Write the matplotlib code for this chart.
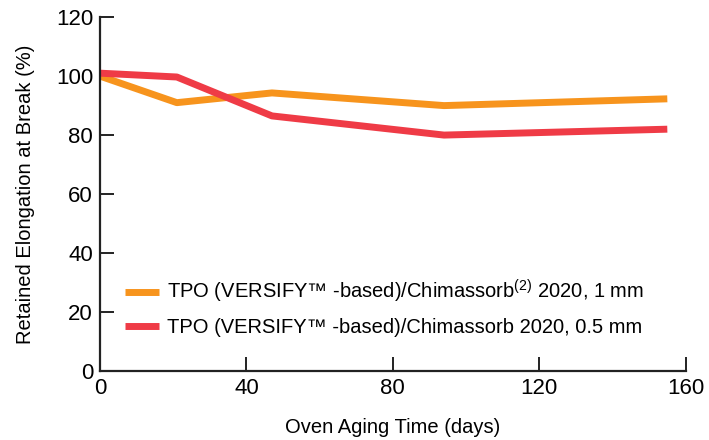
import matplotlib
matplotlib.use("Agg")
from matplotlib import pyplot as plt

plt.rcParams['font.family'] = ['Liberation Sans', 'DejaVu Sans']
plt.rcParams['mathtext.fontset'] = 'custom'
plt.rcParams['mathtext.rm'] = 'Liberation Sans'

days = [0, 21, 47, 94, 155]
elong_1mm = [100, 91, 94.3, 90, 92.3]
elong_05mm = [101, 99.7, 86.5, 80, 82]

labels = ["TPO (VERSIFY\u2122 -based)/Chimassorb$^{\\mathregular{(2)}}$ 2020, 1 mm",
          "TPO (VERSIFY\u2122 -based)/Chimassorb 2020, 0.5 mm"]
colors = ['#F7941D', '#EF3B46']

fig = plt.figure(figsize=(7.09, 4.40), dpi=100)
ax = fig.add_axes([0.141, 0.157, 0.826, 0.804])

ax.plot(days, elong_1mm, color=colors[0], lw=5, label=labels[0], solid_capstyle='butt')
ax.plot(days, elong_05mm, color=colors[1], lw=5, label=labels[1], solid_capstyle='butt')

ax.set_xlim(0, 160)
ax.set_ylim(0, 120)
ax.set_xticks([0, 40, 80, 120, 160])
ax.set_yticks([0, 20, 40, 60, 80, 100, 120])
ax.spines['top'].set_visible(False)
ax.spines['right'].set_visible(False)
for s in ['left', 'bottom']:
    ax.spines[s].set_linewidth(1.6)
    ax.spines[s].set_color('#222222')
ax.tick_params(direction='in', length=10, width=1.4, labelsize=16, color='#222222', pad=5)

ax.set_xlabel("Oven Aging Time (days)", fontsize=14.5, labelpad=14)
ax.set_ylabel("Retained Elongation at Break (%)", fontsize=14.5, labelpad=15)

ax.legend(loc='lower left', bbox_to_anchor=(0.012, 0.045), frameon=False, fontsize=14.5,
          handlelength=1.7, handletextpad=0.4, labelspacing=0.62)

fig.savefig("out.png", dpi=100)
